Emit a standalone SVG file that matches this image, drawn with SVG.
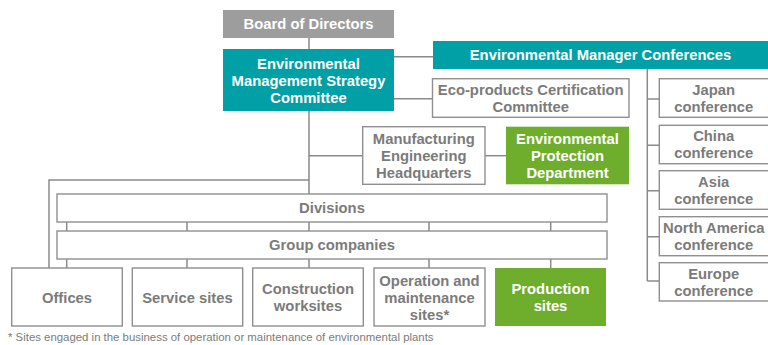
<svg xmlns="http://www.w3.org/2000/svg" width="768" height="345" viewBox="0 0 768 345">
  <style>
    .box { fill: #ffffff; stroke: #8f8f8f; stroke-width: 1.4; }
    .teal { fill: #00a0a6; }
    .green { fill: #6fad2d; }
    .grey { fill: #9d9d9d; }
    text { font-family: "Liberation Sans", Arial, sans-serif; font-size: 14.8px; font-weight: bold; text-anchor: middle; }
    .lbl { fill: #7b7b7b; }
    .inv { fill: #ffffff; }
    .note { font-size: 11.4px; font-weight: normal; text-anchor: start; fill: #7b7b7b; }
    .conn { fill: none; stroke: #8a8a8a; stroke-width: 1.5; }
  </style>

  <!-- connectors -->
  <g id="connectors" class="conn">
    <path d="M309,38 V49"/>
    <path d="M309,111 V194"/>
    <path d="M309,155.7 H362.7"/>
    <path d="M309,180 H49 V268"/>
    <path d="M394,56.7 H433"/>
    <path d="M394,98.7 H432.5"/>
    <path d="M485,155.7 H506"/>
    <path d="M647.3,69 V281"/>
    <path d="M647.3,99 H659.3 M647.3,145.3 H659.3 M647.3,190.7 H659.3 M647.3,236.7 H659.3 M647.3,281 H659.3"/>
    <path d="M66.7,222 V231 M187,222 V231 M309,222 V231 M429,222 V231 M550.7,222 V231"/>
    <path d="M66.7,259 V268 M187,259 V268 M309,259 V268 M429,259 V268 M550.7,259 V268"/>
  </g>

  <g id="board">
    <rect class="grey" x="223" y="10" width="171" height="28"/>
    <text class="inv" x="308.5" y="29">Board of Directors</text>
  </g>

  <g id="strategy-committee">
    <rect class="teal" x="223" y="49" width="171" height="62"/>
    <text class="inv" x="308.5" y="68.5">Environmental</text>
    <text class="inv" x="308.5" y="85.5">Management Strategy</text>
    <text class="inv" x="308.5" y="102.5">Committee</text>
  </g>

  <g id="manager-conferences">
    <rect class="teal" x="433" y="41" width="340" height="28"/>
    <text class="inv" x="600.5" y="60">Environmental Manager Conferences</text>
  </g>

  <g id="eco-products">
    <rect class="box" x="432.5" y="78.7" width="196.5" height="38.6"/>
    <text class="lbl" x="530.7" y="94.5">Eco-products Certification</text>
    <text class="lbl" x="530.7" y="111.5">Committee</text>
  </g>

  <g id="engineering-hq">
    <rect class="box" x="362.7" y="126.7" width="122.3" height="57.6"/>
    <text class="lbl" x="423.8" y="144">Manufacturing</text>
    <text class="lbl" x="423.8" y="161">Engineering</text>
    <text class="lbl" x="423.8" y="178">Headquarters</text>
  </g>

  <g id="protection-dept">
    <rect class="green" x="506" y="126.7" width="123" height="57.6"/>
    <text class="inv" x="567.5" y="144">Environmental</text>
    <text class="inv" x="567.5" y="161">Protection</text>
    <text class="inv" x="567.5" y="178">Department</text>
  </g>

  <g id="japan">
    <rect class="box" x="659.3" y="78.7" width="112" height="38.6"/>
    <text class="lbl" x="713.7" y="94.5">Japan</text>
    <text class="lbl" x="713.7" y="111.5">conference</text>
  </g>
  <g id="china">
    <rect class="box" x="659.3" y="125.3" width="112" height="38.4"/>
    <text class="lbl" x="713.7" y="141">China</text>
    <text class="lbl" x="713.7" y="158">conference</text>
  </g>
  <g id="asia">
    <rect class="box" x="659.3" y="170.7" width="112" height="38.6"/>
    <text class="lbl" x="713.7" y="186.5">Asia</text>
    <text class="lbl" x="713.7" y="203.5">conference</text>
  </g>
  <g id="north-america">
    <rect class="box" x="659.3" y="216.7" width="112" height="39"/>
    <text class="lbl" x="713.7" y="232.5">North America</text>
    <text class="lbl" x="713.7" y="249.5">conference</text>
  </g>
  <g id="europe">
    <rect class="box" x="659.3" y="262.7" width="112" height="38.3"/>
    <text class="lbl" x="713.7" y="278.5">Europe</text>
    <text class="lbl" x="713.7" y="295.5">conference</text>
  </g>

  <g id="divisions">
    <rect class="box" x="57" y="194" width="550" height="28"/>
    <text class="lbl" x="332" y="213">Divisions</text>
  </g>
  <g id="group-companies">
    <rect class="box" x="57" y="231" width="550" height="28"/>
    <text class="lbl" x="332" y="250">Group companies</text>
  </g>

  <g id="offices">
    <rect class="box" x="11.7" y="268" width="110.6" height="58"/>
    <text class="lbl" x="67" y="302.5">Offices</text>
  </g>
  <g id="service-sites">
    <rect class="box" x="132.3" y="268" width="110.4" height="58"/>
    <text class="lbl" x="187.5" y="302.5">Service sites</text>
  </g>
  <g id="construction">
    <rect class="box" x="252.7" y="268" width="110.6" height="58"/>
    <text class="lbl" x="308" y="294">Construction</text>
    <text class="lbl" x="308" y="311">worksites</text>
  </g>
  <g id="operation">
    <rect class="box" x="374" y="268" width="111" height="58"/>
    <text class="lbl" x="429.5" y="285.5">Operation and</text>
    <text class="lbl" x="429.5" y="302.5">maintenance</text>
    <text class="lbl" x="429.5" y="319.5">sites*</text>
  </g>
  <g id="production">
    <rect class="green" x="495" y="268" width="111" height="58"/>
    <text class="inv" x="550.5" y="294">Production</text>
    <text class="inv" x="550.5" y="311">sites</text>
  </g>

  <text class="note" x="8" y="341">* Sites engaged in the business of operation or maintenance of environmental plants</text>
</svg>
